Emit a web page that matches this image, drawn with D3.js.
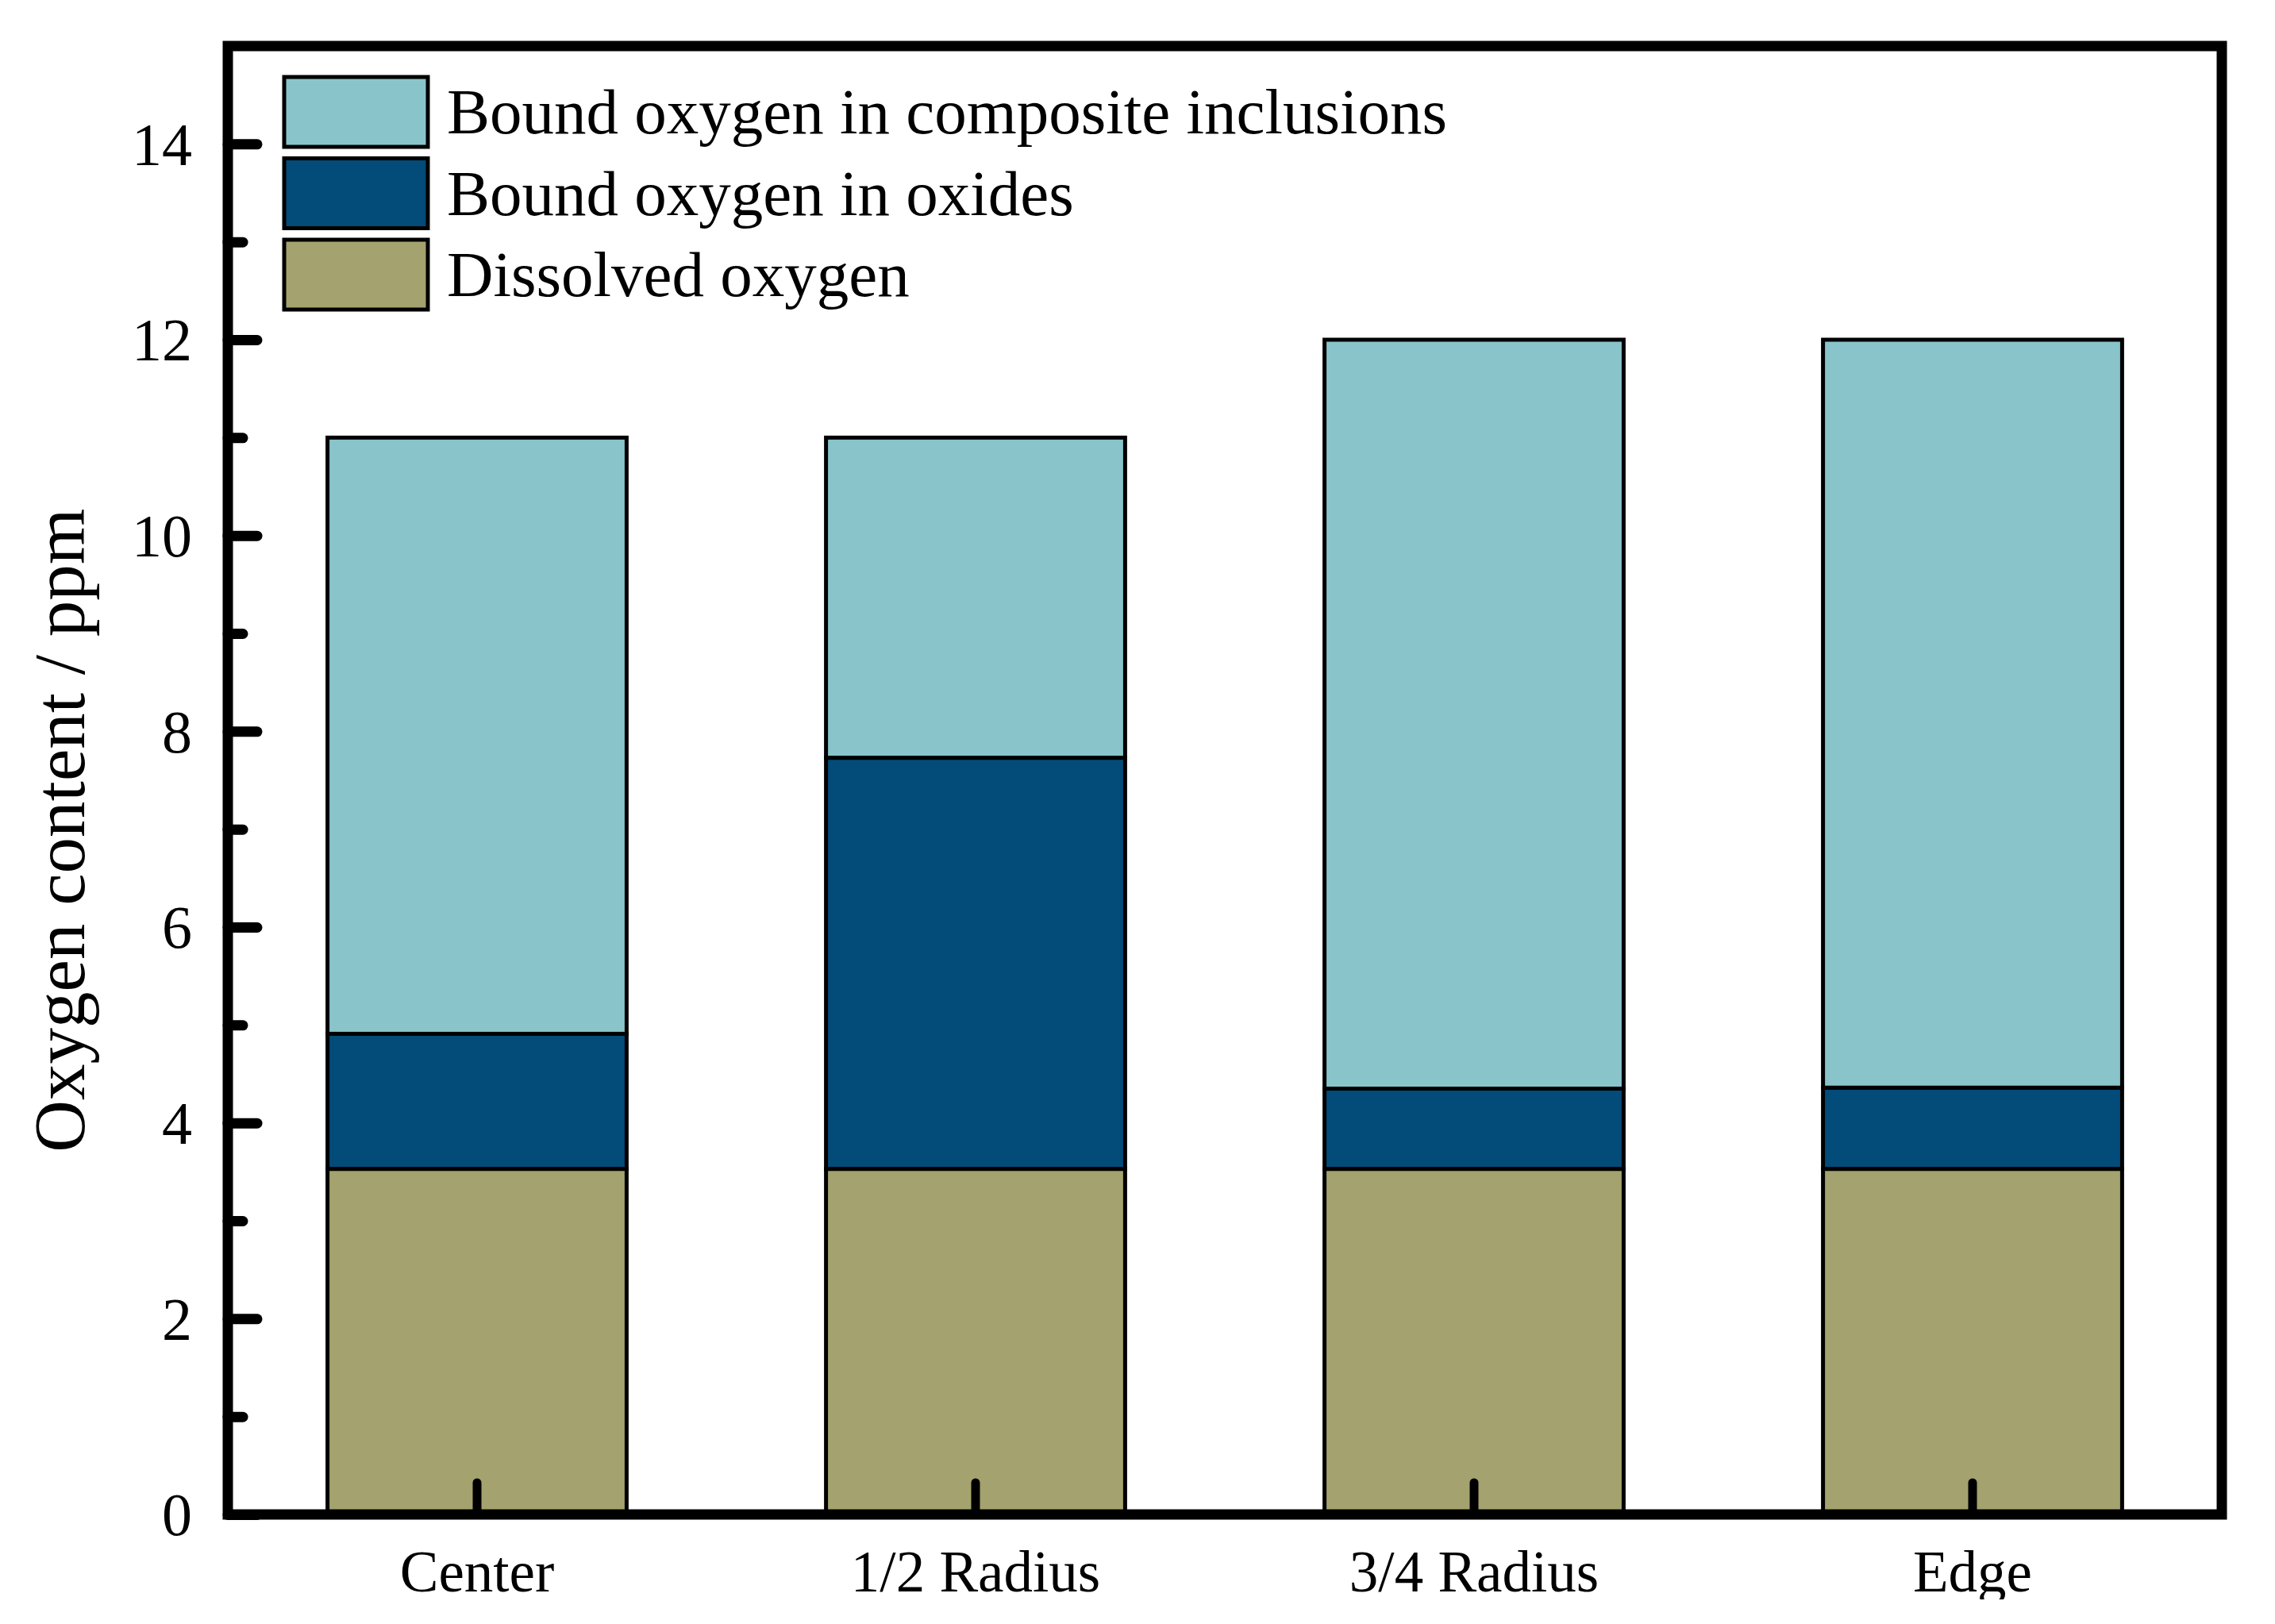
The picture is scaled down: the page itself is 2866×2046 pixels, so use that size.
<!DOCTYPE html>
<html>
<head>
<meta charset="utf-8">
<script src="https://cdn.jsdelivr.net/npm/d3@7"></script>
<style>
  body { margin: 0; background: #fff; }
  svg text { font-family: "Liberation Serif", "Times New Roman", serif; fill: #000; }
</style>
</head>
<body>
<div id="chart"></div>
<script>
// values (ppm)
const categories = ["Center", "1/2 Radius", "3/4 Radius", "Edge"];
const dissolvedOxygen = [3.53, 3.53, 3.53, 3.53];
const oxideOxygen = [1.38, 4.2, 0.82, 0.83];
const compositeOxygen = [6.09, 3.27, 7.65, 7.64];
const seriesKeys = ["dissolved", "oxides", "composite"];
const legendLabels = [
  "Bound oxygen in composite inclusions",
  "Bound oxygen in oxides",
  "Dissolved oxygen",
];
const majorTicks = [0, 2, 4, 6, 8, 10, 12, 14];
const minorTicks = [1, 3, 5, 7, 9, 11, 13];

class StackedOxygenChart {
  constructor(props) {
    this.container = props.container;
    this.svgWidth = props.svgWidth;
    this.svgHeight = props.svgHeight;
    this.init();
  }

  init() {
    // plot frame in page pixels
    this.frame = { left: 287, right: 2799, top: 58, bottom: 1908 };
    this.x = d3
      .scaleBand()
      .domain(categories)
      .range([this.frame.left, this.frame.right])
      .paddingInner(0.4)
      .paddingOuter(0.2);
    this.y = d3.scaleLinear().domain([0, 15]).range([this.frame.bottom, this.frame.top]);
    this.color = d3
      .scaleOrdinal()
      .domain(seriesKeys)
      .range(["#a4a26e", "#034b79", "#89c4cb"]);
    this.render();
  }

  render() {
    const svg = d3
      .select(this.container)
      .append("svg")
      .attr("width", this.svgWidth)
      .attr("height", this.svgHeight);

    svg.append("rect")
      .attr("width", this.svgWidth)
      .attr("height", this.svgHeight)
      .attr("fill", "#fff");

    // build the table d3.stack needs
    const rows = categories.map((c, i) => ({
      category: c,
      dissolved: dissolvedOxygen[i],
      oxides: oxideOxygen[i],
      composite: compositeOxygen[i],
    }));
    const stacked = d3.stack().keys(seriesKeys)(rows);

    const barsG = svg.append("g").attr("class", "bars");
    barsG
      .selectAll(".layer")
      .data(stacked)
      .enter()
      .append("g")
      .attr("class", "layer")
      .attr("fill", (d) => this.color(d.key))
      .selectAll("rect")
      .data((d) => d)
      .enter()
      .append("rect")
      .attr("x", (d) => this.x(d.data.category))
      .attr("width", this.x.bandwidth())
      .attr("y", (d) => this.y(d[1]))
      .attr("height", (d) => this.y(d[0]) - this.y(d[1]))
      .attr("stroke", "#000")
      .attr("stroke-width", 5);

    // y axis: inward major ticks with labels
    const yAxisG = svg.append("g").attr("transform", `translate(${this.frame.left},0)`);
    yAxisG.call(
      d3.axisLeft(this.y).tickValues(majorTicks).tickSize(-37).tickPadding(45)
    );
    yAxisG.select(".domain").remove();
    yAxisG.selectAll(".tick line")
      .attr("stroke", "#000")
      .attr("stroke-width", 13)
      .attr("stroke-linecap", "round");
    yAxisG.selectAll(".tick text")
      .attr("font-size", 76)
      .attr("font-family", "Liberation Serif, serif")
      .attr("dy", "0.34em");

    // minor ticks
    const yMinorG = svg.append("g").attr("transform", `translate(${this.frame.left},0)`);
    yMinorG.call(d3.axisLeft(this.y).tickValues(minorTicks).tickSize(-19).tickFormat(""));
    yMinorG.select(".domain").remove();
    yMinorG.selectAll(".tick line")
      .attr("stroke", "#000")
      .attr("stroke-width", 13)
      .attr("stroke-linecap", "round");

    // x axis: ticks pointing up into the bars, labels cut off at the picture's lower edge
    const clip = svg.append("clipPath").attr("id", "label-clip");
    clip.append("rect")
      .attr("x", 0)
      .attr("y", -this.frame.bottom)
      .attr("width", this.svgWidth)
      .attr("height", 2015);
    const xAxisG = svg.append("g")
      .attr("transform", `translate(0,${this.frame.bottom})`)
      .attr("clip-path", "url(#label-clip)");
    xAxisG.call(d3.axisBottom(this.x).tickSize(-40).tickPadding(0));
    xAxisG.select(".domain").remove();
    xAxisG.selectAll(".tick line")
      .attr("stroke", "#000")
      .attr("stroke-width", 11)
      .attr("stroke-linecap", "round");
    xAxisG.selectAll(".tick text")
      .attr("font-size", 73)
      .attr("font-family", "Liberation Serif, serif")
      .attr("y", 97)
      .attr("dy", null);

    // frame
    svg.append("rect")
      .attr("x", this.frame.left)
      .attr("y", this.frame.top)
      .attr("width", this.frame.right - this.frame.left)
      .attr("height", this.frame.bottom - this.frame.top)
      .attr("fill", "none")
      .attr("stroke", "#000")
      .attr("stroke-width", 13);

    // y title
    svg.append("text")
      .attr("transform", "translate(106,1046) rotate(-90)")
      .attr("text-anchor", "middle")
      .attr("font-size", 91)
      .text("Oxygen content / ppm");

    this.renderLegend(svg);
  }

  renderLegend(svg) {
    const keys = seriesKeys.slice().reverse();
    const legendG = svg.append("g").attr("class", "legend").attr("transform", "translate(358,97)");
    const row = legendG
      .selectAll(".legend-row")
      .data(keys)
      .enter()
      .append("g")
      .attr("class", "legend-row")
      .attr("transform", (d, i) => `translate(0, ${i * 102.5})`);
    row.append("rect")
      .attr("width", 181)
      .attr("height", 88)
      .attr("fill", (d) => this.color(d))
      .attr("stroke", "#000")
      .attr("stroke-width", 5);
    row.append("text")
      .attr("x", 205)
      .attr("y", 71)
      .attr("font-size", 81)
      .text((d, i) => legendLabels[i]);
  }
}

new StackedOxygenChart({ container: "#chart", svgWidth: 2866, svgHeight: 2046 });
</script>
</body>
</html>
